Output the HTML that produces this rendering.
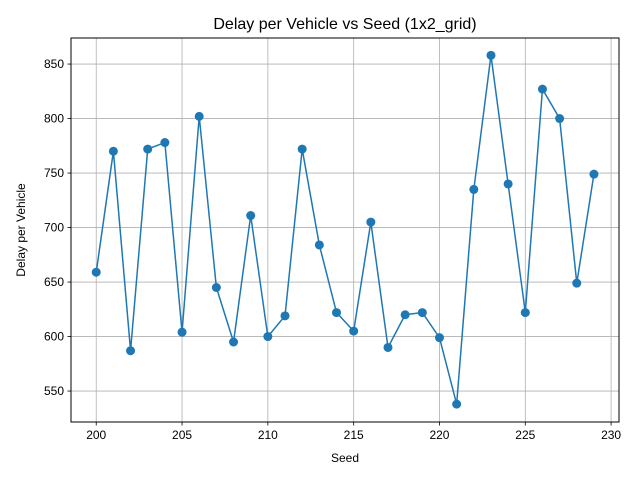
<!DOCTYPE html>
<html><head><meta charset="utf-8"><style>
body{margin:0;background:#fff;}
svg{display:block;font-family:"Liberation Sans","DejaVu Sans",sans-serif;}
</style></head><body>
<svg id="chart" width="640" height="480">
<rect width="640" height="480" fill="#fff"/>
<text x="345" y="29" font-size="16" text-anchor="middle">Delay per Vehicle vs Seed (1x2_grid)</text>
<g id="grid"></g>
<g id="axes"></g>
<g id="series"></g>
<rect x="71" y="38" width="548" height="384" fill="none" stroke="#000" stroke-width="1"/>
<text x="345" y="462" font-size="12" text-anchor="middle">Seed</text>
<text x="25" y="230" font-size="12" text-anchor="middle" transform="rotate(-90 25 230)">Delay per Vehicle</text>
</svg>
<script>
const seeds=[200,201,202,203,204,205,206,207,208,209,210,211,212,213,214,215,216,217,218,219,220,221,222,223,224,225,226,227,228,229];
const delays=[659,770,587,772,778,604,802,645,595,711,600,619,772,684,622,605,705,590,620,622,599,538,735,858,740,622,827,800,649,749];
const xTicks=[200,205,210,215,220,225,230];
const yTicks=[550,600,650,700,750,800,850];
const L=71,R=619,T=38,B=422;
const xMin=198.53,xMax=230.46,yMin=521.6,yMax=873.9;
const sx=v=>L+(v-xMin)/(xMax-xMin)*(R-L);
const sy=v=>B-(v-yMin)/(yMax-yMin)*(B-T);
const NS="http://www.w3.org/2000/svg";
const grid=document.getElementById('grid'),axes=document.getElementById('axes'),ser=document.getElementById('series');
function mk(tag,attrs,parent){const e=document.createElementNS(NS,tag);for(const k in attrs)e.setAttribute(k,attrs[k]);parent.appendChild(e);return e;}
xTicks.forEach(t=>{const x=sx(t);
 const g=mk('line',{x1:x,x2:x,y1:T,y2:B,stroke:'#b0b0b0','stroke-width':0.8},grid);
 
 
 const tk=mk('line',{x1:x,x2:x,y1:B,y2:B+3.5,stroke:'#000','stroke-width':0.8},axes);
 
 
 const tx=mk('text',{x:x,y:B+17,'font-size':12,'text-anchor':'middle'},axes);tx.textContent=t;
 
 
});
yTicks.forEach(t=>{const y=sy(t);
 const g=mk('line',{x1:L,x2:R,y1:y,y2:y,stroke:'#b0b0b0','stroke-width':0.8},grid);
 
 
 const tk=mk('line',{x1:L-3.5,x2:L,y1:y,y2:y,stroke:'#000','stroke-width':0.8},axes);
 
 
 const tx=mk('text',{x:L-7,y:y+4,'font-size':12,'text-anchor':'end'},axes);tx.textContent=t;
 
 
});
const pts=seeds.map((s,i)=>sx(s)+','+sy(delays[i])).join(' ');
const pl=mk('polyline',{points:pts,fill:'none',stroke:'#1f77b4','stroke-width':1.5},ser);


seeds.forEach((s,i)=>{const c=mk('circle',{cx:sx(s),cy:sy(delays[i]),r:4.5,fill:'#1f77b4'},ser);
 
 
});
</script>
</body></html>
